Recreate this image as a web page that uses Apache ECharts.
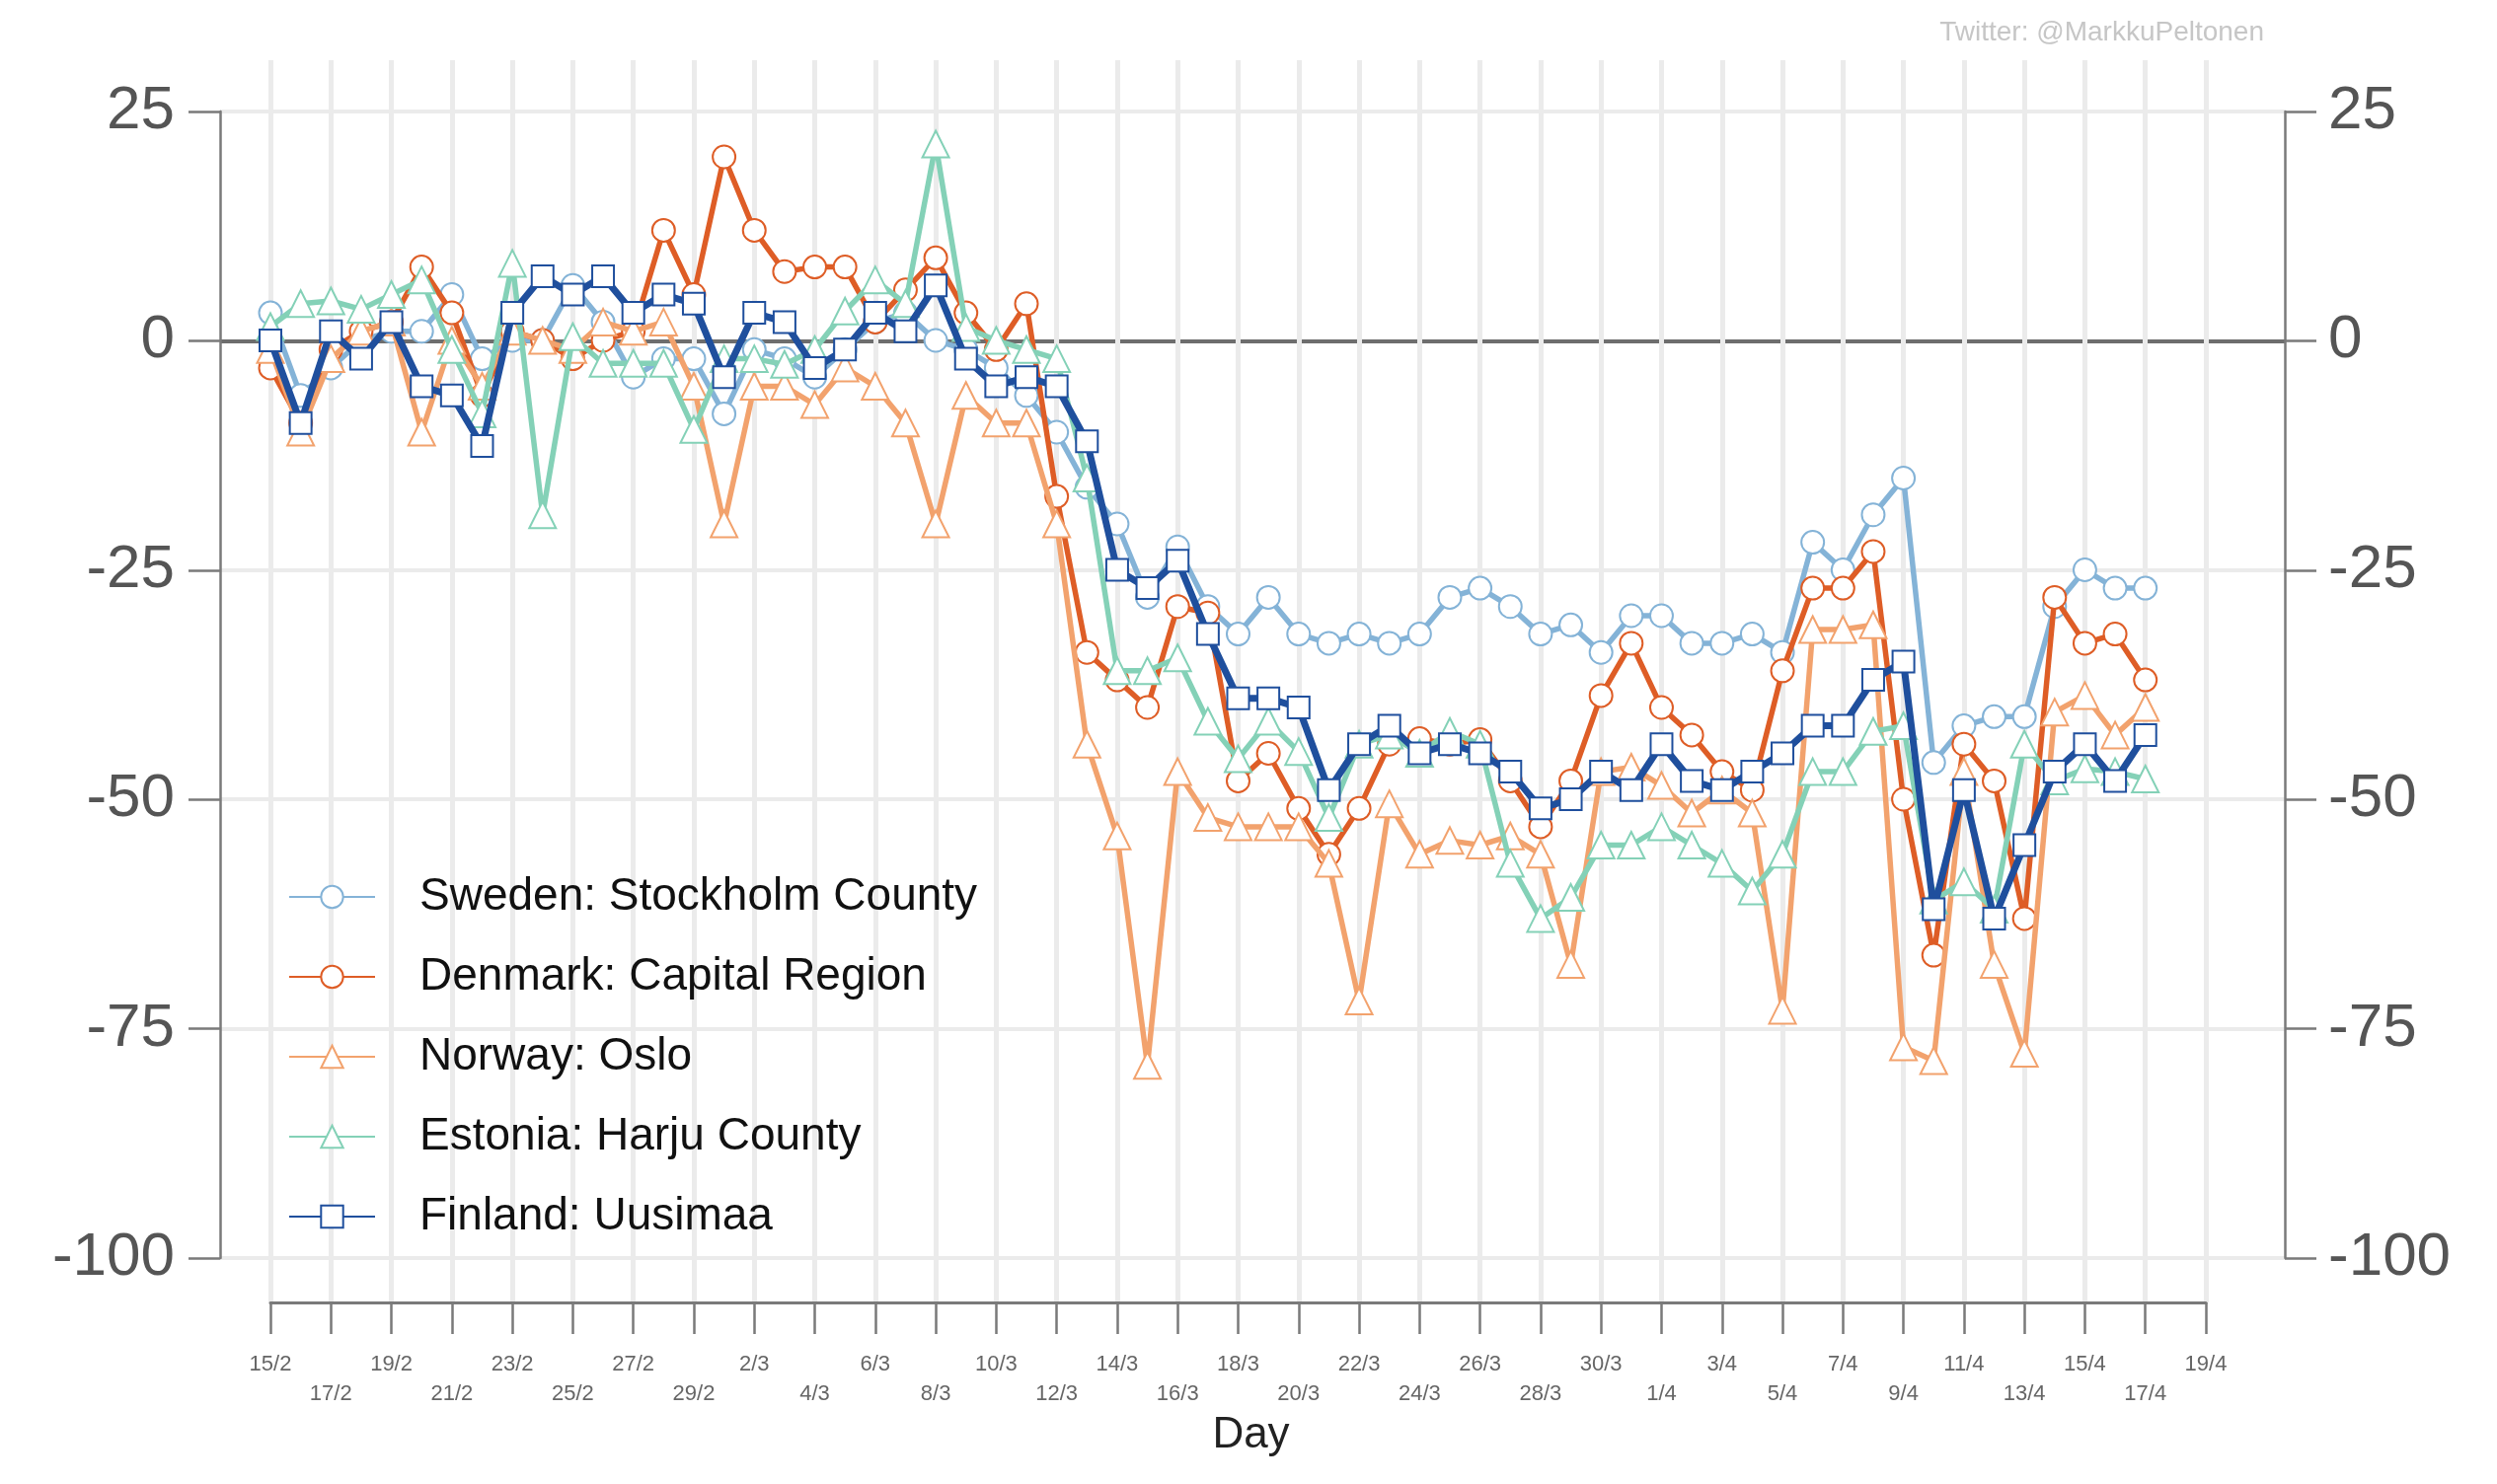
<!DOCTYPE html>
<html><head><meta charset="utf-8">
<script src="https://cdn.jsdelivr.net/npm/echarts@6/dist/echarts.min.js"></script>
<style>html,body{margin:0;padding:0;background:#fff}#c{width:2530px;height:1504px}</style>
</head><body><div id="c"></div>
<script>
// x categories (every day 15/2 .. 19/4); every second one is a labelled tick
const categories = ['15/2','16/2','17/2','18/2','19/2','20/2','21/2','22/2','23/2','24/2','25/2','26/2','27/2','28/2','29/2',
  '1/3','2/3','3/3','4/3','5/3','6/3','7/3','8/3','9/3','10/3','11/3','12/3','13/3','14/3','15/3','16/3','17/3','18/3','19/3','20/3',
  '21/3','22/3','23/3','24/3','25/3','26/3','27/3','28/3','29/3','30/3','31/3',
  '1/4','2/4','3/4','4/4','5/4','6/4','7/4','8/4','9/4','10/4','11/4','12/4','13/4','14/4','15/4','16/4','17/4','18/4','19/4'];
const yTicks = [-100, -75, -50, -25, 0, 25];

const seriesNames = ['Sweden: Stockholm County','Denmark: Capital Region','Norway: Oslo','Estonia: Harju County','Finland: Uusimaa'];

const sweden = [3,-6,-3,0,1,1,5,-2,0,0, 6,2,-4,-2,-2,-8,-1,-2,-4,-1, 2,3,0,-1,-3,-6,-10,-16,-20,-28,
  -22.5,-29,-32,-28,-32,-33,-32,-33,-32,-28, -27,-29,-32,-31,-34,-30,-30,-33,-33,-32, -34,-22,-25,-19,-15,-46,-42,-41,-41,-29, -25,-27,-27];
const denmark = [-3,-9,-1,1,2,8,3,-6,1,0, -2,0,1,12,5,20,12,7.5,8,8, 2,5.5,9,3,-1,4,-17,-34,-37,-40,
  -29,-29.7,-48,-45,-51,-56,-51,-44,-43.4,-44, -43.5,-48,-53,-48,-38.7,-33,-40,-43,-47,-49, -36,-27,-27,-23,-50,-67,-44,-48,-63,-28, -33,-32,-37];
const norway = [-1,-10,-2,1,2,-10,0,-5,1,0, -1,2,1,2,-5,-20,-5,-5,-7,-3, -5,-9,-20,-6,-9,-9,-20,-44,-54,-79,
  -47,-52,-53,-53,-53,-57,-72,-50.5,-56,-54.5, -55,-54,-56,-68,-47,-46.5,-48.5,-51.5,-49,-51.5, -73,-31.5,-31.5,-31,-77,-78.5,-47,-68,-77.7,-40.5, -38.7,-43,-40];
const estonia = [1.5,4,4.3,3.4,5,6.6,-1,-8,8.4,-19, 0.4,-2.5,-2.5,-2.5,-9.7,-2,-2,-2.6,-1,3.2, 6.6,4,21.4,1.4,0,-1,-2,-15,-36,-36,
  -34.6,-41.5,-45.6,-41.5,-44.8,-52,-44,-43,-45,-42.6, -44,-57,-63,-60.7,-55,-55,-53,-55,-57,-60, -56,-47,-47,-42.6,-42,-61,-59,-62,-44,-48, -46.7,-47,-47.8];
const finland = [0,-9,1,-2,2,-5,-6,-11.5,3,7, 5,7,3,5,4,-4,3,2,-3,-1, 3,1,6,-2,-5,-4,-5,-11,-25,-27,
  -24,-32,-39,-39,-40,-49,-44,-42,-45,-44, -45,-47,-51,-50,-47,-49,-44,-48,-49,-47, -45,-42,-42,-37,-35,-62,-49,-63,-55,-47, -44,-48,-43];

const colors = ['#84b3d7','#de5d26','#f2a26d','#84d1b7','#1f4f9d'];
const symbols = ['emptyCircle','emptyCircle','emptyTriangle','emptyTriangle','emptyRect'];
const sizes = [23,23,27,27,22];
const values = [sweden, denmark, norway, estonia, finland];

const FONT = 'Liberation Sans, Arial, sans-serif';
const chart = echarts.init(document.getElementById('c'), null, {renderer:'canvas'});

const series = values.map((v, k) => ({
  name: seriesNames[k], type: 'line', xAxisIndex: 1, yAxisIndex: 2,
  data: v, symbol: symbols[k], symbolSize: sizes[k], showAllSymbol: true,
  lineStyle: {color: colors[k], width: k === 4 ? 7 : 5.5},
  itemStyle: {color: colors[k], borderWidth: 5},
  z: 3 + k, animation: false
}));

chart.setOption({
  backgroundColor: '#fff',
  animation: false,
  textStyle: {fontFamily: FONT},
  title: {text: 'Twitter: @MarkkuPeltonen', right: 231, top: 14,
    textStyle: {fontSize: 28, fontWeight: 'normal', color: '#c6c6c6', fontFamily: FONT}},
  grid: [
    {left: 223, right: 215, top: 113, bottom: 229},
    {left: 274, right: 295, top: 61, bottom: 184}
  ],
  xAxis: [
    {type: 'value', gridIndex: 0, show: false, min: 0, max: 1},
    {type: 'category', gridIndex: 1, data: categories, boundaryGap: false, position: 'bottom',
      axisLine: {show: true, onZero: false, lineStyle: {color: '#7a7a7a', width: 3}},
      axisTick: {show: true, interval: 1, length: 32, lineStyle: {color: '#7a7a7a', width: 2.5}},
      axisLabel: {interval: 1, margin: 48, fontSize: 22, lineHeight: 30, color: '#666', fontFamily: FONT,
        formatter: (val, idx) => ((idx / 2) % 2 === 1 ? '\n' : '') + val},
      splitLine: {show: true, interval: 1, lineStyle: {color: '#ebebeb', width: 5}},
      name: 'Day', nameLocation: 'middle', nameGap: 110,
      nameTextStyle: {fontSize: 44, color: '#222', fontFamily: FONT, padding: [0, 0, 0, 26]}}
  ],
  yAxis: [
    {type: 'value', gridIndex: 0, position: 'left', min: yTicks[0], max: yTicks[yTicks.length-1], interval: 25,
      axisLine: {show: true, onZero: false, lineStyle: {color: '#7a7a7a', width: 2.5}},
      axisTick: {show: true, length: 32, lineStyle: {color: '#7a7a7a', width: 2.5}},
      axisLabel: {margin: 46, fontSize: 62, color: '#555', fontFamily: FONT},
      splitLine: {show: true, lineStyle: {color: ['#ebebeb','#ebebeb','#ebebeb','#ebebeb','#6e6e6e','#ebebeb'], width: 4}}},
    {type: 'value', gridIndex: 0, position: 'right', min: yTicks[0], max: yTicks[yTicks.length-1], interval: 25,
      axisLine: {show: true, onZero: false, lineStyle: {color: '#7a7a7a', width: 2.5}},
      axisTick: {show: true, length: 32, lineStyle: {color: '#7a7a7a', width: 2.5}},
      axisLabel: {margin: 44, fontSize: 62, color: '#555', fontFamily: FONT},
      splitLine: {show: false}},
    {type: 'value', gridIndex: 1, show: false, min: -104.84, max: 30.54, splitLine: {show: false}}
  ],
  legend: {
    orient: 'vertical', left: 287, top: 881, itemGap: 35, itemWidth: 87, itemHeight: 28,
    data: seriesNames,
    textStyle: {fontSize: 46, lineHeight: 45, color: '#111', fontFamily: FONT, padding: [0, 0, 0, 40]}
  },
  series: series
});
</script></body></html>
